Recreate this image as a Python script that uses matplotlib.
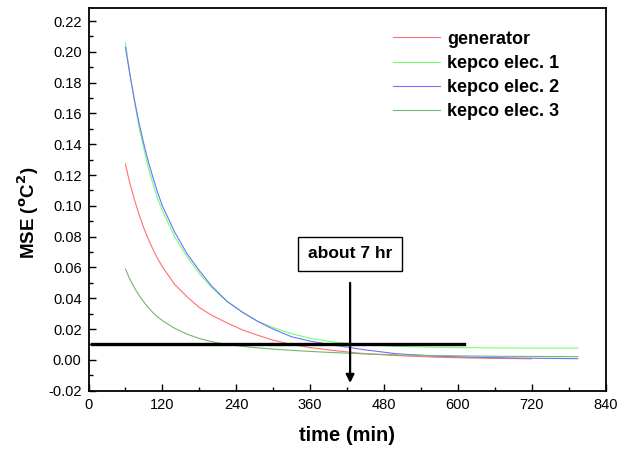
import matplotlib
matplotlib.use("Agg")
import matplotlib.pyplot as plt

plt.rcParams["font.family"] = ["Liberation Sans", "DejaVu Sans"]

# time (min) and MSE (degC^2)
t_long = [60, 67, 75, 82, 90, 97, 105, 112, 120, 140, 160, 180, 200, 225,
          250, 275, 300, 330, 360, 400, 450, 500, 560, 620, 680, 740, 795]
t_gen = [60, 67, 75, 82, 90, 97, 105, 112, 120, 140, 160, 180, 200, 225,
         250, 275, 300, 330, 360, 400, 450, 500, 560, 620, 680, 720]

generator = [0.127, 0.115, 0.1035, 0.0945, 0.0855, 0.0785, 0.0715, 0.066,
             0.0605, 0.049, 0.041, 0.034, 0.029, 0.024, 0.0195, 0.016, 0.0128,
             0.0100, 0.0080, 0.0060, 0.0040, 0.0028, 0.0018, 0.0012, 0.0009,
             0.0007]
kepco1 = [0.206, 0.186, 0.167, 0.151, 0.137, 0.125, 0.114, 0.105, 0.097,
          0.080, 0.067, 0.056, 0.047, 0.038, 0.031, 0.025, 0.021, 0.0170,
          0.0140, 0.0115, 0.0098, 0.0088, 0.0082, 0.0079, 0.0077, 0.0076,
          0.0076]
kepco2 = [0.203, 0.186, 0.168, 0.154, 0.140, 0.129, 0.118, 0.109, 0.100,
          0.083, 0.069, 0.058, 0.048, 0.038, 0.031, 0.025, 0.020, 0.0150,
          0.0122, 0.0095, 0.0065, 0.0040, 0.0025, 0.0018, 0.0013, 0.0010,
          0.0008]
kepco3 = [0.059, 0.0525, 0.0465, 0.042, 0.0375, 0.034, 0.0305, 0.028, 0.0255,
          0.0205, 0.0167, 0.0139, 0.0118, 0.0100, 0.0088, 0.0078, 0.0070,
          0.0062, 0.0055, 0.0047, 0.0039, 0.0033, 0.0028, 0.0025, 0.0023,
          0.0022, 0.0021]

threshold = 0.01
threshold_span = (5, 610)
marker_time = 425
arrow_span = (0.05, -0.015)

fig = plt.figure(figsize=(6.26, 4.5), dpi=100)
ax = fig.add_axes([0.1414, 0.1318, 0.8259, 0.8511])

ax.plot(t_gen, generator, color="#ff7070", lw=0.8, label="generator")
ax.plot(t_long, kepco1, color="#70ff70", lw=0.8, label="kepco elec. 1")
ax.plot(t_long, kepco2, color="#7070ff", lw=0.8, label="kepco elec. 2")
ax.plot(t_long, kepco3, color="#70b870", lw=0.8, label="kepco elec. 3")

ax.plot(threshold_span, [threshold, threshold], color="black", lw=2.4)
ax.annotate("", xy=(marker_time, arrow_span[1]),
            xytext=(marker_time, arrow_span[0]),
            arrowprops=dict(arrowstyle="-|>", color="black", lw=1.6,
                            mutation_scale=12, shrinkA=0, shrinkB=0))
ax.text(marker_time, 0.069, "about 7 hr", ha="center", va="center",
        fontsize=12.5, fontweight="bold",
        bbox=dict(boxstyle="square,pad=0.55", fc="white", ec="black", lw=1))

ax.set_xlim(0, 840)
ax.set_ylim(-0.02, 0.2287)
ax.set_xticks(range(0, 841, 120))
ax.set_xticks(range(60, 841, 120), minor=True)
ax.set_yticks([i / 100 for i in range(-2, 23, 2)])
ax.set_yticks([i / 100 for i in range(-1, 23, 2)], minor=True)
ax.set_yticklabels([f"{i / 100:.2f}" for i in range(-2, 23, 2)])
ax.tick_params(which="both", direction="in", top=False, right=False,
               labelsize=10.5, width=1)
ax.tick_params(which="major", length=5, pad=5)
ax.tick_params(which="minor", length=3)
for spine in ax.spines.values():
  spine.set_linewidth(1.3)

ax.set_xlabel("time (min)", fontsize=14.5, fontweight="bold", labelpad=10)
ax.set_ylabel("MSE ($\\mathbf{^o}$C$\\mathbf{^2}$)", fontsize=13.5,
              fontweight="bold")
ax.yaxis.set_label_coords(-0.092, 0.464)

ax.legend(loc="upper left", bbox_to_anchor=(0.589, 0.94), frameon=False,
          prop=dict(size=13, weight="bold"), handlelength=2.6,
          handletextpad=0.38, labelspacing=0.4, borderpad=0,
          borderaxespad=0)

fig.savefig("out.png", dpi=100)
